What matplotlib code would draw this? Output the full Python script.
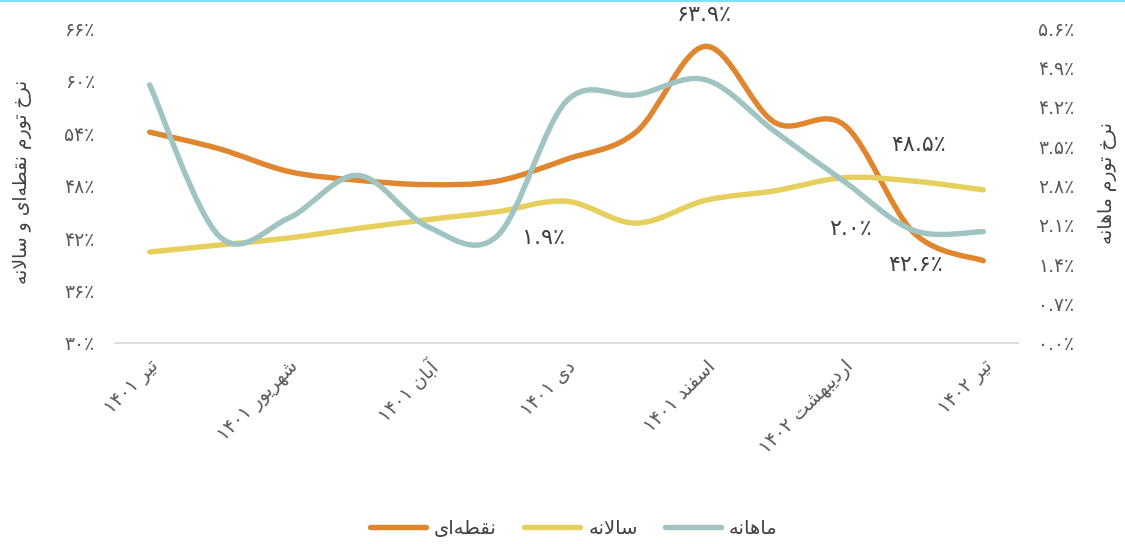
import re
import numpy as np
import matplotlib
matplotlib.use('Agg')
from matplotlib import pyplot as plt
from matplotlib.path import Path
from matplotlib.patches import PathPatch
from matplotlib.lines import Line2D

plt.rcParams['font.family'] = ['DejaVu Sans']

# ---- data ----
months = ['تیر ۱۴۰۱', 'مرداد ۱۴۰۱', 'شهریور ۱۴۰۱', 'مهر ۱۴۰۱', 'آبان ۱۴۰۱',
          'آذر ۱۴۰۱', 'دی ۱۴۰۱', 'بهمن ۱۴۰۱', 'اسفند ۱۴۰۱', 'فروردین ۱۴۰۲',
          'اردیبهشت ۱۴۰۲', 'خرداد ۱۴۰۲', 'تیر ۱۴۰۲']
point_to_point = [54.1, 52.2, 49.6, 48.6, 48.1, 48.5, 51.0, 54.1, 63.9, 55.2, 54.9, 42.6, 39.4]
annual = [40.4, 41.2, 42.0, 43.1, 44.1, 45.0, 46.2, 43.7, 46.3, 47.4, 48.9, 48.5, 47.5]
monthly = [4.59, 1.90, 2.22, 2.98, 2.07, 1.90, 4.30, 4.41, 4.68, 3.76, 2.87, 2.00, 1.98]

ORANGE = '#df862f'
YELLOW = '#e6cf5c'
TEAL = '#9fc4c1'

# ---- very small persian shaper (matplotlib has no bidi / shaping) ----
FORMS = {
    'ا': (0xFE8D, 0xFE8E, None, None), 'آ': (0xFE81, 0xFE82, None, None),
    'ب': (0xFE8F, 0xFE90, 0xFE91, 0xFE92), 'ت': (0xFE95, 0xFE96, 0xFE97, 0xFE98),
    'خ': (0xFEA5, 0xFEA6, 0xFEA7, 0xFEA8), 'د': (0xFEA9, 0xFEAA, None, None),
    'ذ': (0xFEAB, 0xFEAC, None, None), 'ر': (0xFEAD, 0xFEAE, None, None),
    'س': (0xFEB1, 0xFEB2, 0xFEB3, 0xFEB4), 'ش': (0xFEB5, 0xFEB6, 0xFEB7, 0xFEB8),
    'ط': (0xFEC1, 0xFEC2, 0xFEC3, 0xFEC4), 'ف': (0xFED1, 0xFED2, 0xFED3, 0xFED4),
    'ق': (0xFED5, 0xFED6, 0xFED7, 0xFED8), 'ل': (0xFEDD, 0xFEDE, 0xFEDF, 0xFEE0),
    'م': (0xFEE1, 0xFEE2, 0xFEE3, 0xFEE4), 'ن': (0xFEE5, 0xFEE6, 0xFEE7, 0xFEE8),
    'ه': (0xFEE9, 0xFEEA, 0xFEEB, 0xFEEC), 'و': (0xFEED, 0xFEEE, None, None),
    'ی': (0xFEEF, 0xFEF0, 0xFEF3, 0xFEF4),
}


def joins_next(c):
    return c in FORMS and FORMS[c][2] is not None


def shape(s):
    out = []
    i = 0
    while i < len(s):
        c = s[i]
        prev = i > 0 and joins_next(s[i - 1])
        if c == 'ل' and i + 1 < len(s) and s[i + 1] == 'ا':
            out.append(chr(0xFEFC if prev else 0xFEFB))
            i += 2
            continue
        if c in FORMS:
            nxt = joins_next(c) and i + 1 < len(s) and s[i + 1] in FORMS
            iso, fin, ini, med = FORMS[c]
            code = med if (prev and nxt) else fin if prev else ini if nxt else iso
            out.append(chr(code))
        elif c != '\u200c':
            out.append(c)
        i += 1
    return ''.join(out)


def fa(s):
    shaped = shape(s)
    runs = re.findall(r'[۰-۹0-9.٪]+|[^۰-۹0-9.٪]+', shaped)
    return ''.join(r if re.match(r'[۰-۹0-9]', r) else r[::-1] for r in reversed(runs))


def fa_num(s):
    return s.translate(str.maketrans('0123456789', '۰۱۲۳۴۵۶۷۸۹'))


def smooth_path(x, y):
    # catmull-rom like bezier, similar to excel's "smoothed line"
    pts = np.column_stack([x, y]).astype(float)
    n = len(pts)
    verts = [pts[0]]
    codes = [Path.MOVETO]
    for i in range(n - 1):
        p0 = pts[max(i - 1, 0)]
        p1 = pts[i]
        p2 = pts[i + 1]
        p3 = pts[min(i + 2, n - 1)]
        verts += [p1 + (p2 - p0) / 6, p2 - (p3 - p1) / 6, p2]
        codes += [Path.CURVE4] * 3
    return Path(verts, codes)


def draw_series(ax, y, color):
    x = np.arange(len(y))
    patch = PathPatch(smooth_path(x, y), fill=False, edgecolor=color, lw=3.9,
                      capstyle='round', joinstyle='round')
    ax.add_patch(patch)


fig = plt.figure(figsize=(11.25, 5.44), dpi=100)
ax = fig.add_axes([0.1022, 0.3695, 0.8027, 0.579])
ax2 = ax.twinx()

draw_series(ax, point_to_point, ORANGE)
draw_series(ax, annual, YELLOW)
draw_series(ax2, monthly, TEAL)

ax.set_xlim(-0.5, len(months) - 0.5)
ax.set_ylim(30, 66)
ax2.set_ylim(0, 5.6)

left_ticks = np.arange(30, 67, 6)
ax.set_yticks(left_ticks)
ax.set_yticklabels([fa_num('%d' % v) + '٪' for v in left_ticks])
right_ticks = np.arange(0, 5.61, 0.7)
ax2.set_yticks(right_ticks)
ax2.set_yticklabels([fa_num('%.1f' % v) + '٪' for v in right_ticks])

xt = np.arange(0, len(months), 2)
ax.set_xticks(xt)
ax.set_xticklabels([fa(months[i]) for i in xt], rotation=45, ha='right',
                   va='top', rotation_mode='anchor')

for a in (ax, ax2):
    for side in ('top', 'left', 'right', 'bottom'):
        a.spines[side].set_visible(False)
    a.tick_params(length=0, labelsize=13.5, labelcolor='#595959')
ax.spines['bottom'].set_visible(True)
ax.spines['bottom'].set_color('#d9d9d9')
ax.spines['bottom'].set_linewidth(1.3)
ax.tick_params(axis='x', pad=10, labelsize=13.5)
ax.tick_params(axis='y', pad=14.5)
ax2.tick_params(axis='y', pad=14.5)

ax.set_ylabel(fa('نرخ تورم نقطه‌ای و سالانه'), fontsize=13.5, color='#404040')
ax.yaxis.set_label_coords(-0.092, 0.51)
ax2.set_ylabel(fa('نرخ تورم ماهانه'), fontsize=13.5, color='#404040', rotation=90)
ax2.yaxis.set_label_coords(1.089, 0.508)

# data labels
labels = [
    (ax, 8, point_to_point[8], '۶۳.۹٪', (-1, 31)),
    (ax, 11, annual[11], '۴۸.۵٪', (5, 36)),
    (ax2, 11, monthly[11], '۲.۰٪', (-63, 2)),
    (ax, 11, point_to_point[11], '۴۲.۶٪', (2, -32)),
    (ax2, 5, monthly[5], '۱.۹٪', (46, -2)),
]
for a, xi, yv, txt, off in labels:
    a.annotate(txt, (xi, yv), xytext=off, textcoords='offset pixels',
               ha='center', va='center', fontsize=16, color='#404040',
               annotation_clip=False)

handles = [Line2D([], [], color=c, lw=3.9, solid_capstyle='round')
           for c in (ORANGE, YELLOW, TEAL)]
fig.legend(handles, [fa('نقطه‌ای'), fa('سالانه'), fa('ماهانه')], loc='center',
           bbox_to_anchor=(0.51, 0.028), ncol=3, frameon=False, fontsize=14,
           handlelength=2.9, handletextpad=0.4, columnspacing=1.4,
           labelcolor='#404040')

fig.add_artist(Line2D([0, 1], [0.999, 0.999], color='#7fe2ec', lw=1.5,
                      transform=fig.transFigure))

fig.savefig('out.png', dpi=100)
